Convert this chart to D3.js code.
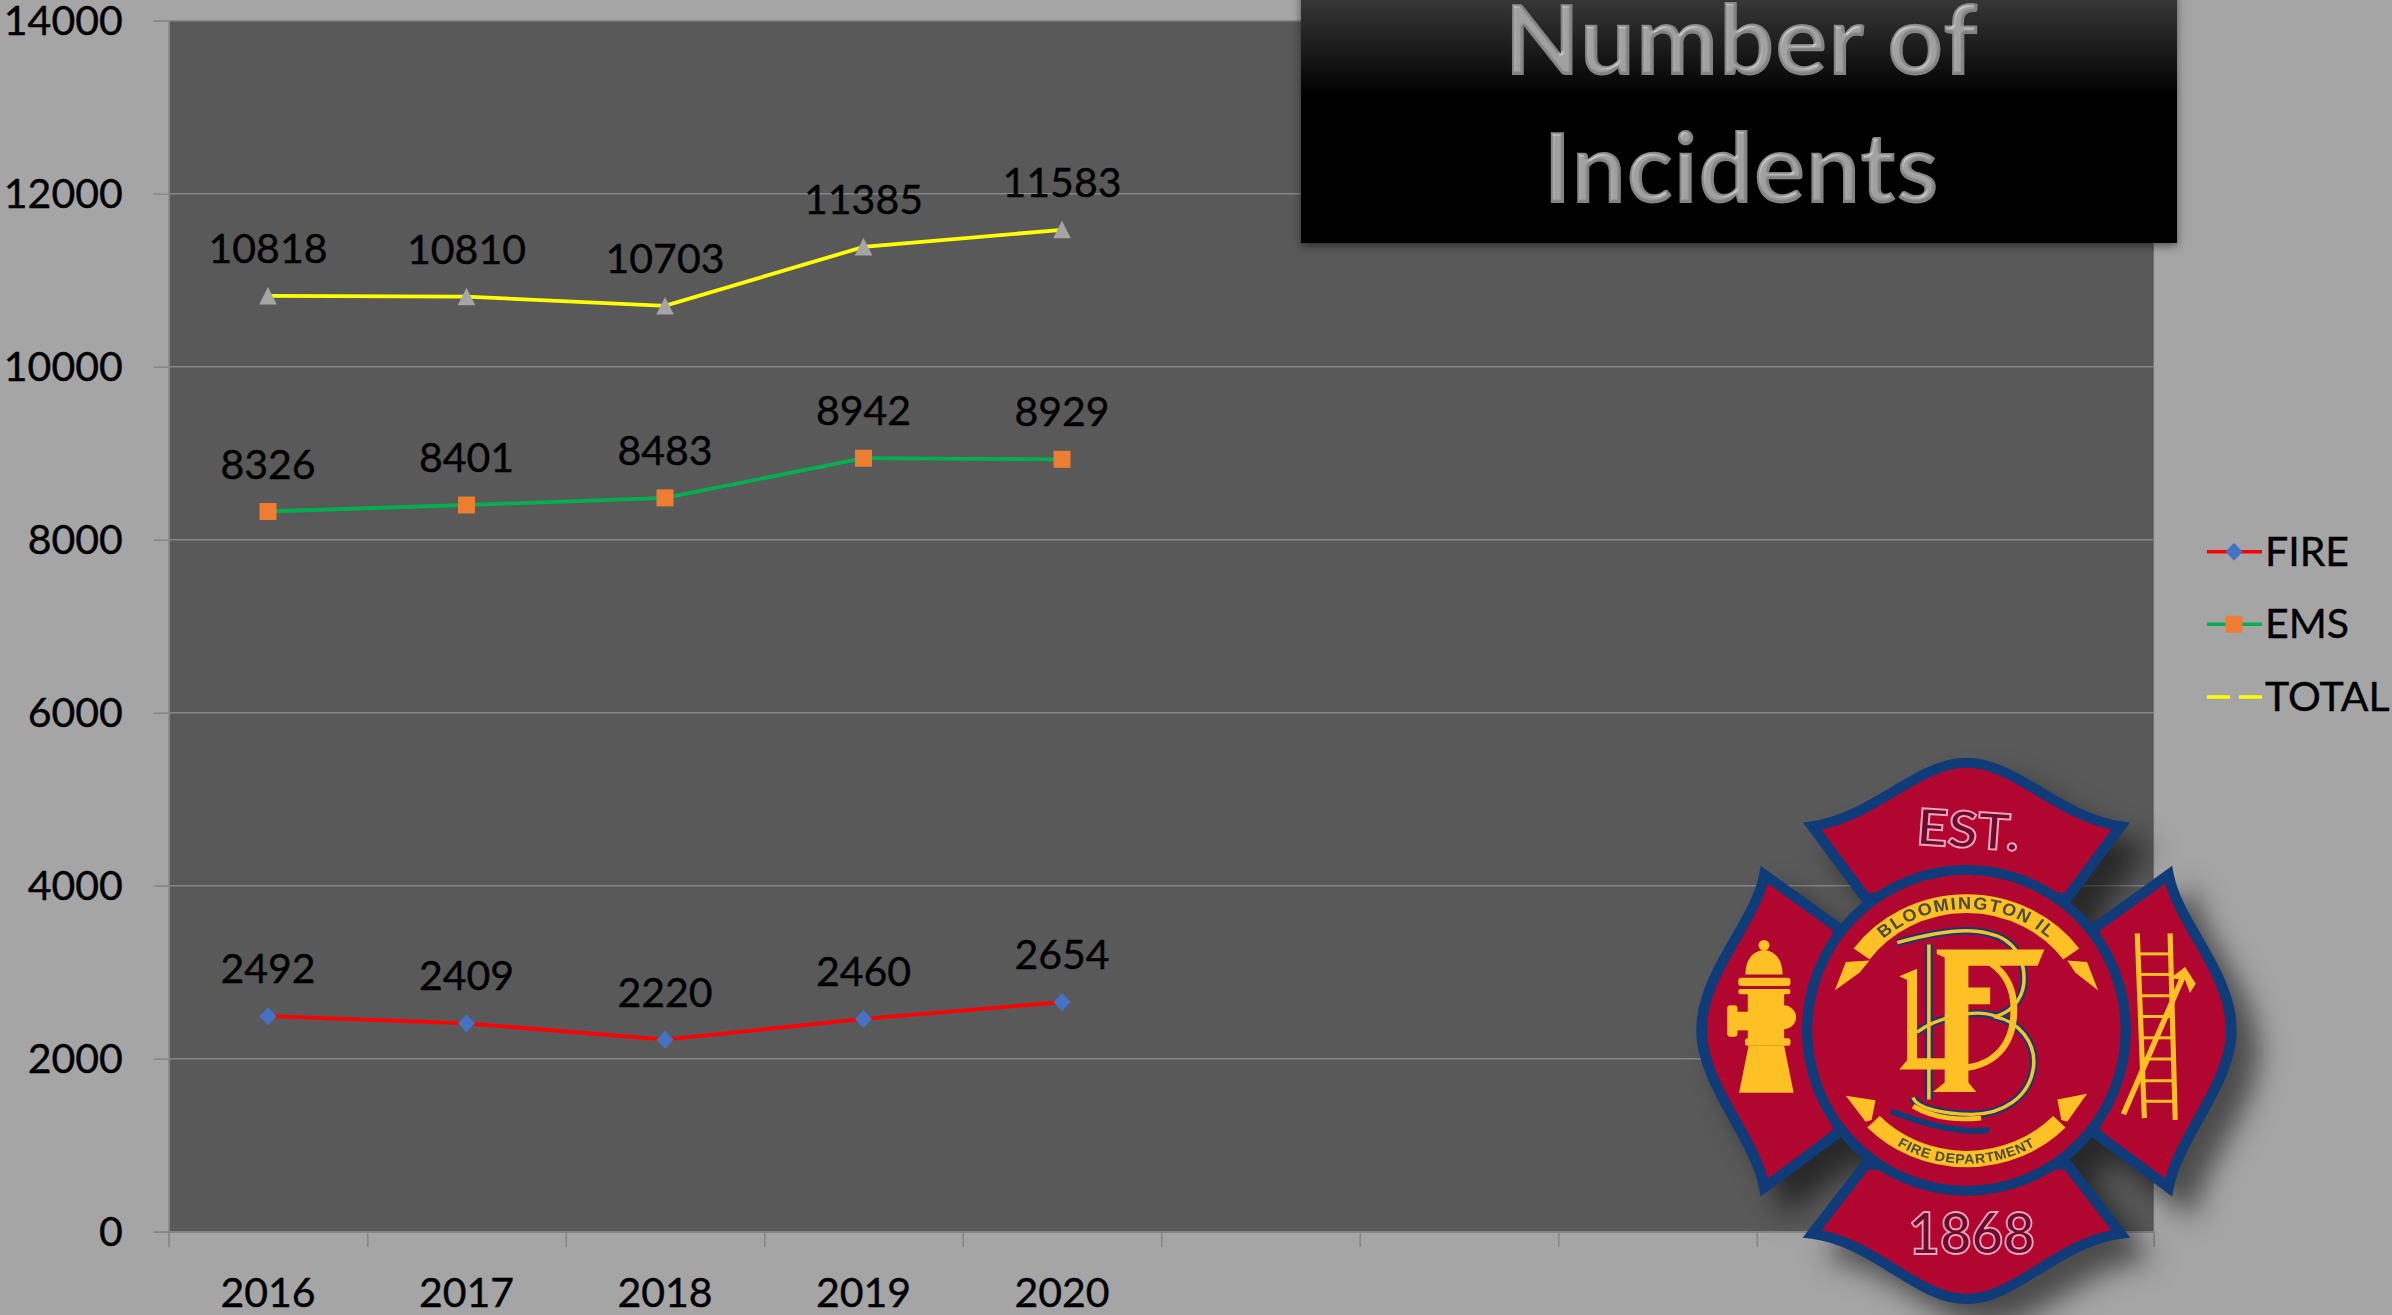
<!DOCTYPE html>
<html>
<head>
<meta charset="utf-8">
<script src="https://d3js.org/d3.v7.min.js"></script>
<style>
  html, body { margin: 0; padding: 0; background: #a5a5a5; overflow: hidden; }
  text { font-family: Lato, "Open Sans", sans-serif; }
  filter { color-interpolation-filters: sRGB; }
  .axis path, .axis line { stroke: #868686; stroke-width: 1.5; }
  .ink { stroke: #000; stroke-width: 0.4; }
</style>
</head>
<body>
<svg id="chart" width="2392" height="1315"></svg>
<script>
const years = ["2016", "2017", "2018", "2019", "2020"];
const slotCount = 10; // the category axis keeps five empty slots on the right
const fire = [2492, 2409, 2220, 2460, 2654];
const ems = [8326, 8401, 8483, 8942, 8929];
const total = [10818, 10810, 10703, 11385, 11583];
const yTicks = [0, 2000, 4000, 6000, 8000, 10000, 12000, 14000];
const titleLines = ["Number of", "Incidents"];

const plotLeft = 168.75, plotRight = 2153.75, plotTop = 20.7, plotBottom = 1231.7;
const fontSize = 41;

const svg = d3.select("#chart");
svg.append("rect").attr("width", 2392).attr("height", 1315).attr("fill", "#a5a5a5");

const defs = svg.append("defs");
const grad = defs.append("linearGradient").attr("id", "boxFill")
  .attr("x1", 0).attr("y1", 0).attr("x2", 0).attr("y2", 1);
grad.append("stop").attr("offset", "0%").attr("stop-color", "#3c3c3c");
grad.append("stop").attr("offset", "42%").attr("stop-color", "#000");
grad.append("stop").attr("offset", "100%").attr("stop-color", "#000");

const boxShadow = defs.append("filter").attr("id", "boxShadow")
  .attr("x", "-5%").attr("y", "-5%").attr("width", "110%").attr("height", "115%");
boxShadow.append("feDropShadow").attr("dx", 0).attr("dy", 3).attr("stdDeviation", 4)
  .attr("flood-color", "#000").attr("flood-opacity", 0.5);

const logoShadow = defs.append("filter").attr("id", "logoShadow")
  .attr("x", "-10%").attr("y", "-10%").attr("width", "130%").attr("height", "130%");
logoShadow.append("feDropShadow").attr("dx", 22).attr("dy", 22).attr("stdDeviation", 14)
  .attr("flood-color", "#000").attr("flood-opacity", 0.55);

// chiselled look for the title letters
const bevel = defs.append("filter").attr("id", "bevel");
bevel.append("feGaussianBlur").attr("in", "SourceAlpha").attr("stdDeviation", 1.6).attr("result", "blur");
bevel.append("feSpecularLighting").attr("in", "blur").attr("surfaceScale", 3)
  .attr("specularConstant", 0.3).attr("specularExponent", 12)
  .attr("lighting-color", "#ffffff").attr("result", "spec")
  .append("feDistantLight").attr("azimuth", 235).attr("elevation", 45);
bevel.append("feComposite").attr("in", "spec").attr("in2", "SourceAlpha")
  .attr("operator", "in").attr("result", "specIn");
bevel.append("feComposite").attr("in", "SourceGraphic").attr("in2", "specIn")
  .attr("operator", "arithmetic").attr("k1", 0).attr("k2", 1).attr("k3", 1).attr("k4", 0);

const x = d3.scaleBand().domain(d3.range(slotCount)).range([plotLeft, plotRight]);
const xEdge = d3.scaleLinear().domain([0, slotCount]).range([plotLeft, plotRight]);
const y = d3.scaleLinear().domain([0, 14000]).range([plotBottom, plotTop]);
const px = i => x(i) + x.bandwidth() / 2;

svg.append("rect")
  .attr("x", plotLeft).attr("y", plotTop)
  .attr("width", plotRight - plotLeft).attr("height", plotBottom - plotTop)
  .attr("fill", "#595959");

// gridlines
svg.append("g").selectAll("line")
  .data(yTicks)
  .enter()
  .append("line")
  .attr("x1", plotLeft).attr("x2", plotRight)
  .attr("y1", d => y(d)).attr("y2", d => y(d))
  .attr("stroke", "#868686").attr("stroke-width", 1.5);

// axes
const yAxis = svg.append("g").attr("class", "axis")
  .attr("transform", `translate(${plotLeft},0)`)
  .call(d3.axisLeft(y).tickValues(yTicks).tickSize(15).tickPadding(31).tickFormat(d3.format("d")));
yAxis.selectAll("text").attr("class", "ink").attr("font-size", fontSize).attr("fill", "#000").attr("dy", 14)
  .style("font-family", "Lato");

svg.append("g").attr("class", "axis")
  .attr("transform", `translate(0,${plotBottom})`)
  .call(d3.axisBottom(xEdge).tickValues(d3.range(slotCount + 1)).tickSize(15).tickFormat(""));

const xLabels = svg.append("g").attr("class", "axis")
  .attr("transform", `translate(0,${plotBottom})`)
  .call(d3.axisBottom(x).tickSize(0).tickFormat(i => years[i] || ""));
xLabels.select("path").remove();
xLabels.selectAll("text").attr("class", "ink").attr("font-size", fontSize).attr("fill", "#000")
  .attr("y", 0).attr("dy", 75).style("font-family", "Lato");

// series
const seriesList = [
  { name: "FIRE", values: fire, line: "#ff0000", marker: "#4472c4" },
  { name: "EMS", values: ems, line: "#00b050", marker: "#ed7d31" },
  { name: "TOTAL", values: total, line: "#ffff00", marker: "#a5a5a5" }
];
const markerPath = {
  FIRE: "M0,-9L8.5,0L0,9L-8.5,0Z",
  EMS: "M-8.5,-8.5H8.5V8.5H-8.5Z",
  TOTAL: "M0,-9L8.8,8.5H-8.8Z"
};
const lineGen = d3.line().x((d, i) => px(i)).y(d => y(d));

seriesList.forEach(s => {
  const g = svg.append("g");
  g.append("path")
    .attr("d", lineGen(s.values))
    .attr("fill", "none")
    .attr("stroke", s.line)
    .attr("stroke-width", 3.8);
  g.selectAll("path.m")
    .data(s.values)
    .enter()
    .append("path")
    .attr("class", "m")
    .attr("d", markerPath[s.name])
    .attr("transform", (d, i) => `translate(${px(i)},${y(d)})`)
    .attr("fill", s.marker);
  g.selectAll("text")
    .data(s.values)
    .enter()
    .append("text")
    .attr("class", "ink")
    .attr("x", (d, i) => px(i))
    .attr("y", d => y(d) - 33)
    .attr("text-anchor", "middle")
    .attr("font-size", fontSize)
    .attr("fill", "#000")
    .text(d => d);
});

// legend
const legendY = [551.7, 624.3, 697];
const legend = svg.append("g");
seriesList.forEach((s, i) => {
  const row = legend.append("g");
  const ln = row.append("line")
    .attr("x1", 2207).attr("x2", 2262)
    .attr("y1", legendY[i]).attr("y2", legendY[i])
    .attr("stroke", s.line).attr("stroke-width", 3.6);
  if (s.name === "TOTAL") {
    ln.attr("stroke-dasharray", "23 9 23");
  } else {
    row.append("path")
      .attr("d", markerPath[s.name])
      .attr("transform", `translate(2234,${legendY[i]})`)
      .attr("fill", s.marker);
  }
  row.append("text")
    .attr("class", "ink")
    .attr("x", 2265).attr("y", legendY[i] + 14)
    .attr("font-size", fontSize)
    .attr("fill", "#000")
    .text(s.name);
});

// title box
svg.append("rect")
  .attr("x", 1301).attr("y", -10).attr("width", 876).attr("height", 253)
  .attr("fill", "url(#boxFill)")
  .attr("filter", "url(#boxShadow)");
const titleG = svg.append("g").attr("filter", "url(#bevel)");
titleG.selectAll("text")
  .data(titleLines)
  .enter()
  .append("text")
  .attr("x", 1741)
  .attr("y", (d, i) => i === 0 ? 75 : 203)
  .attr("text-anchor", "middle")
  .attr("font-size", 98)
  .attr("font-weight", 700)
  .attr("textLength", (d, i) => i === 0 ? 474 : 396)
  .attr("lengthAdjust", "spacingAndGlyphs")
  .attr("fill", "#838383")
  .text(d => d);

// fire department badge, drawn in its own sketch space
const red = "#b0062f", navy = "#0f3b78", gold = "#fdc025";
const badgeOuter = svg.append("g").attr("filter", "url(#logoShadow)");
const badge = badgeOuter.append("g")
  .attr("transform", `translate(1660,730) scale(${1 / 2.529},${1 / 2.68})`);

const arms = [
  "M385,258C540,235,650,88,775,88C900,88,1010,235,1165,258L1030,450L520,450Z",
  "M385,1350L520,1165L1030,1165L1165,1350C1010,1370,900,1525,775,1525C650,1525,540,1370,385,1350Z",
  "M264,388C240,520,105,650,105,805C105,950,240,1090,264,1226L450,1080L450,530Z",
  "M1286,388C1310,520,1445,650,1445,805C1445,950,1310,1090,1286,1226L1100,1080L1100,530Z"
];
badge.selectAll("path.arm")
  .data(arms)
  .enter()
  .append("path")
  .attr("class", "arm")
  .attr("d", d => d)
  .attr("fill", red)
  .attr("stroke", navy)
  .attr("stroke-width", 27)
  .attr("stroke-linejoin", "miter");

badge.append("ellipse")
  .attr("cx", 775).attr("cy", 805).attr("rx", 403).attr("ry", 430)
  .attr("fill", red).attr("stroke", navy).attr("stroke-width", 26);

// banner tails
const tails = [
  "M442,698L470,622L530,618L505,650Z",
  "M1108,698L1080,622L1030,618L1050,650Z",
  "M470,980L545,992L535,1045L520,1050Z",
  "M1080,975L1005,990L1015,1045L1030,1050Z"
];
badge.selectAll("path.tail")
  .data(tails)
  .enter()
  .append("path")
  .attr("class", "tail")
  .attr("d", d => d)
  .attr("fill", gold);

const bannerTop = "M510,600A328,328 0 0 1 1040,600";
const bannerBottom = "M540,1050A326,326 0 0 0 1010,1050";
defs.append("path").attr("id", "topArc").attr("d", "M520,610A314,314 0 0 1 1030,610");
defs.append("path").attr("id", "bottomArc").attr("d", "M560,1085A338,338 0 0 0 990,1085");
[bannerTop, bannerBottom].forEach((d, i) => {
  badge.append("path").attr("d", d).attr("fill", "none")
    .attr("stroke", gold).attr("stroke-width", i === 0 ? 50 : 44);
});
badge.append("text")
  .attr("font-size", 46).attr("font-weight", 700).attr("fill", "#4a4a3a")
  .attr("letter-spacing", 4)
  .style("font-family", "Liberation Sans")
  .append("textPath").attr("href", "#topArc").attr("startOffset", "50%")
  .attr("text-anchor", "middle").text("BLOOMINGTON IL");
badge.append("text")
  .attr("font-size", 36).attr("font-weight", 700).attr("fill", "#4a4a3a")
  .attr("letter-spacing", 2)
  .style("font-family", "Liberation Sans")
  .append("textPath").attr("href", "#bottomArc").attr("startOffset", "50%")
  .attr("text-anchor", "middle").text("FIRE DEPARTMENT");

// monogram, traced as plain strokes and fills
const monoB = "M600,570C700,540,780,530,830,545C900,560,925,620,920,680C915,730,880,760,845,768C910,780,950,840,945,900C935,990,860,1030,790,1030C720,1030,650,1015,640,985M680,575V990M650,810C700,770,800,745,850,768";
badge.append("path").attr("d", monoB).attr("fill", "none").attr("stroke", navy).attr("stroke-width", 20);
badge.append("path").attr("d", monoB).attr("fill", "none").attr("stroke", gold).attr("stroke-width", 9);
badge.append("path").attr("d", "M585,1022C680,1062,760,1082,832,1072").attr("fill", "none").attr("stroke", navy).attr("stroke-width", 16);
badge.append("path").attr("d", "M640,1008C700,1045,760,1045,812,1040").attr("fill", "none").attr("stroke", gold).attr("stroke-width", 13);
badge.append("path").attr("d", "M605,660L650,640V880H770V910H605L625,885V670Z").attr("fill", gold);
badge.append("path").attr("d", "M740,600C860,600,895,680,895,750C895,840,850,908,740,908")
  .attr("fill", "none").attr("stroke", gold).attr("stroke-width", 17);
badge.append("path").attr("d", "M700,588H972L955,632H780V690H835V735H780V945L800,970H690L720,945V610L700,600Z").attr("fill", gold);

// hydrant
const hydrant = badge.append("g").attr("fill", gold);
hydrant.append("circle").attr("cx", 263).attr("cy", 577).attr("r", 14);
hydrant.append("path").attr("d", "M216,655C216,610,240,590,263,590C286,590,310,610,310,655Z");
hydrant.append("rect").attr("x", 198).attr("y", 664).attr("width", 132).attr("height", 22).attr("rx", 8);
hydrant.append("rect").attr("x", 198).attr("y", 694).attr("width", 132).attr("height", 14).attr("rx", 6);
hydrant.append("rect").attr("x", 222).attr("y", 706).attr("width", 92).attr("height", 130);
hydrant.append("rect").attr("x", 170).attr("y", 738).attr("width", 26).attr("height", 84).attr("rx", 8);
hydrant.append("rect").attr("x", 192).attr("y", 755).attr("width", 34).attr("height", 50);
hydrant.append("circle").attr("cx", 312).attr("cy", 770).attr("r", 32);
hydrant.append("rect").attr("x", 215).attr("y", 826).attr("width", 115).attr("height", 20).attr("rx", 6);
hydrant.append("path").attr("d", "M224,846H314L338,972H200Z");

// ladder and axe
const ladder = badge.append("g").attr("stroke", gold).attr("stroke-linecap", "butt");
const ladderLines = [
  [1207, 545, 1225, 1040, 13], [1290, 545, 1303, 1045, 13],
  [1212, 600, 1292, 600, 8], [1214, 655, 1294, 655, 8], [1216, 712, 1296, 712, 8],
  [1218, 768, 1298, 768, 8], [1219, 825, 1299, 825, 8], [1220, 882, 1300, 882, 8],
  [1222, 940, 1302, 940, 8], [1224, 995, 1303, 995, 8],
  [1172, 1030, 1325, 655, 14]
];
ladder.selectAll("line")
  .data(ladderLines)
  .enter()
  .append("line")
  .attr("x1", d => d[0]).attr("y1", d => d[1])
  .attr("x2", d => d[2]).attr("y2", d => d[3])
  .attr("stroke-width", d => d[4]);
badge.append("path").attr("d", "M1290,665L1328,635L1355,680L1340,705L1328,670Z").attr("fill", gold);

// EST. and 1868
badge.selectAll("text.stamp")
  .data([
    { t: "EST.", x: 776, y: 315, r: 4, size: 135, w: 260 },
    { t: "1868", x: 788, y: 1405, r: 0, size: 155, w: 320 }
  ])
  .enter()
  .append("text")
  .attr("class", "stamp")
  .attr("text-anchor", "middle")
  .attr("transform", d => `translate(${d.x},${d.y}) rotate(${d.r})`)
  .attr("font-size", d => d.size)
  .attr("font-weight", 700)
  .attr("textLength", d => d.w)
  .attr("lengthAdjust", "spacingAndGlyphs")
  .attr("fill", "#6d0a30")
  .attr("stroke", "#f2a6b8")
  .attr("stroke-width", 5)
  .text(d => d.t);
</script>
</body>
</html>
